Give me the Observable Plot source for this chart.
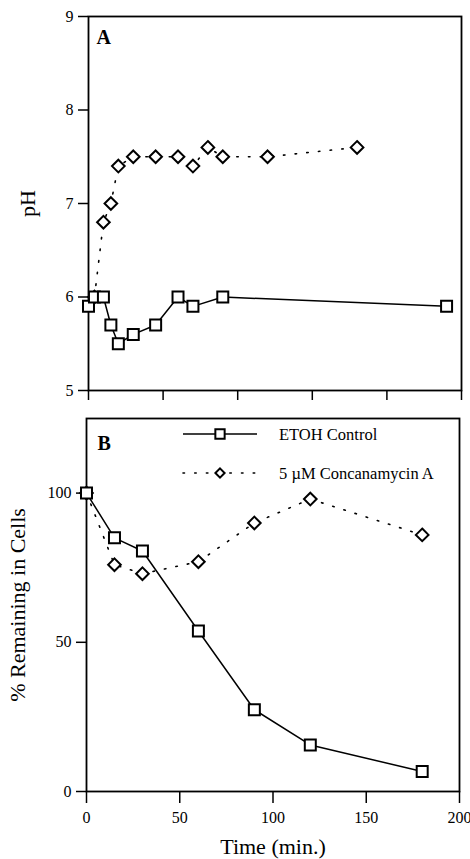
<!DOCTYPE html>
<html><head><meta charset="utf-8">
<script src="https://cdn.jsdelivr.net/npm/d3@7"></script>
<script src="https://cdn.jsdelivr.net/npm/@observablehq/plot@0.6"></script>
<style>
html,body{margin:0;padding:0;background:#fff;overflow:hidden;}
#chart{width:470px;}
.panel{position:relative;width:470px;}
.panel svg{display:block;}
</style></head><body><div id="chart"></div>
<script>
// ---- Panel A: pH over time ----
const timeControlA = [0, 4, 10, 15, 20, 30, 45, 60, 70, 90, 240];
const phControlA   = [5.9, 6.0, 6.0, 5.7, 5.5, 5.6, 5.7, 6.0, 5.9, 6.0, 5.9];
const timeConcA    = [4, 10, 15, 20, 30, 45, 60, 70, 80, 90, 120, 180];
const phConcA      = [6.0, 6.8, 7.0, 7.4, 7.5, 7.5, 7.5, 7.4, 7.6, 7.5, 7.5, 7.6];
const xTicksA = [0, 50, 100, 150, 200, 250];
const yTicksA = [5, 6, 7, 8, 9];

// ---- Panel B: % remaining in cells ----
const timeB       = [0, 15, 30, 60, 90, 120, 180];
const remControlB = [100, 85, 80.6, 53.8, 27.4, 15.6, 6.7];
const remConcB    = [100, 76, 73, 77, 90, 98, 86];
const xTicksB = [0, 50, 100, 150, 200];
const yTicksB = [0, 50, 100];

const seriesNames = ["ETOH Control", "5 \u00B5M Concanamycin A"];

const FONT = "Liberation Serif, Times New Roman, Times, serif";
const DOTTED = "1.5 10.2";
const fmt = d3.format("d");

const ctrlA = timeControlA.map((t, i) => ({t, v: phControlA[i]}));
const concA = timeConcA.map((t, i) => ({t, v: phConcA[i]}));
const ctrlB = timeB.map((t, i) => ({t, v: remControlB[i]}));
const concB = timeB.map((t, i) => ({t, v: remConcB[i]}));

const baseStyle = {fontFamily: FONT, fontSize: "16px", color: "black", background: "white", overflow: "visible"};

const plotA = Plot.plot({
  width: 470, height: 400,
  marginTop: 16, marginBottom: 10, marginLeft: 88, marginRight: 9,
  style: baseStyle,
  x: {domain: [0, 250]},
  y: {domain: [5, 9]},
  marks: [
    Plot.frame({stroke: "black", strokeWidth: 1.8}),
    Plot.axisX({ticks: xTicksA, tickSize: 10, tickFormat: () => "", strokeWidth: 1.5, label: null}),
    Plot.axisY({ticks: yTicksA, tickFormat: fmt, tickSize: 10, tickPadding: 5, strokeWidth: 1.5, fontFamily: FONT, label: "pH", labelAnchor: "center", labelArrow: "none", labelOffset: 69}),
    Plot.line(concA, {x: "t", y: "v", stroke: "black", strokeWidth: 1.6, strokeDasharray: DOTTED, strokeLinecap: "round"}),
    Plot.dot(concA, {x: "t", y: "v", symbol: "diamond2", r: 5.7, fill: "white", stroke: "black", strokeWidth: 2}),
    Plot.line(ctrlA, {x: "t", y: "v", stroke: "black", strokeWidth: 1.5}),
    Plot.dot(ctrlA, {x: "t", y: "v", symbol: "square", r: 6.2, fill: "white", stroke: "black", strokeWidth: 2}),
    Plot.text(["A"], {frameAnchor: "top-left", dx: 8, dy: 13, fontWeight: "bold", fontSize: 20, fontFamily: FONT})
  ]
});

const plotB = Plot.plot({
  width: 470, height: 459,
  marginTop: 18, marginBottom: 68, marginLeft: 86, marginRight: 11,
  style: baseStyle,
  x: {domain: [0, 200]},
  y: {domain: [0, 125]},
  marks: [
    Plot.frame({stroke: "black", strokeWidth: 1.8}),
    Plot.axisX({ticks: xTicksB, tickFormat: fmt, tickSize: 12, tickPadding: 8, strokeWidth: 1.5, fontFamily: FONT, label: "Time (min.)", labelAnchor: "center", labelArrow: "none", labelOffset: 62}),
    Plot.axisY({ticks: yTicksB, tickFormat: fmt, tickSize: 10, tickPadding: 5, strokeWidth: 1.5, fontFamily: FONT, label: "% Remaining in Cells", labelAnchor: "center", labelArrow: "none", labelOffset: 77}),
    Plot.line(concB, {x: "t", y: "v", stroke: "black", strokeWidth: 1.6, strokeDasharray: DOTTED, strokeLinecap: "round"}),
    Plot.dot(concB, {x: "t", y: "v", symbol: "diamond2", r: 5.7, fill: "white", stroke: "black", strokeWidth: 2}),
    Plot.line(ctrlB, {x: "t", y: "v", stroke: "black", strokeWidth: 1.5}),
    Plot.dot(ctrlB, {x: "t", y: "v", symbol: "square", r: 6.2, fill: "white", stroke: "black", strokeWidth: 2}),
    Plot.text(["B"], {frameAnchor: "top-left", dx: 11, dy: 17.5, fontWeight: "bold", fontSize: 20, fontFamily: FONT})
  ]
});

const chart = document.getElementById("chart");
const pa = document.createElement("div"); pa.className = "panel"; pa.appendChild(plotA);
const pb = document.createElement("div"); pb.className = "panel"; pb.appendChild(plotB);
chart.appendChild(pa); chart.appendChild(pb);

// Force the serif face on every text node, and enlarge axis titles
d3.selectAll(".panel svg text").style("font-family", FONT);
d3.selectAll('.panel svg g[aria-label="y-axis label"] text, .panel svg g[aria-label="x-axis label"] text').style("font-size", "22px");
d3.selectAll('.panel svg g[aria-label="y-axis label"], .panel svg g[aria-label="x-axis label"]').style("font-size", "22px");

// Legend overlay for panel B
const leg = d3.create("svg").attr("width", 470).attr("height", 459)
  .style("position", "absolute").style("left", "0").style("top", "0").style("pointer-events", "none")
  .style("font-family", FONT).style("font-size", "16.5px");
const rows = [
  {name: seriesNames[0], dash: null, symbol: d3.symbolSquare, size: 9.3 * 9.3},
  {name: seriesNames[1], dash: DOTTED, symbol: d3.symbolDiamond2, size: Math.pow(4.6 / 0.62625, 2)}
];
rows.forEach((r, i) => {
  const y = 34 + i * 39;
  const g = leg.append("g").attr("transform", `translate(0,${y})`);
  g.append("line").attr("x1", 183).attr("x2", 257).attr("y1", 0).attr("y2", 0)
    .attr("stroke", "black").attr("stroke-width", r.dash ? 1.6 : 1.5)
    .attr("stroke-dasharray", r.dash).attr("stroke-linecap", r.dash ? "round" : null);
  g.append("path").attr("transform", "translate(220,0)").attr("d", d3.symbol(r.symbol, r.size)())
    .attr("fill", "white").attr("stroke", "black").attr("stroke-width", 2);
  g.append("text").attr("x", 279).attr("y", 0).attr("dy", "0.35em").text(r.name);
});
pb.appendChild(leg.node());
</script></body></html>
